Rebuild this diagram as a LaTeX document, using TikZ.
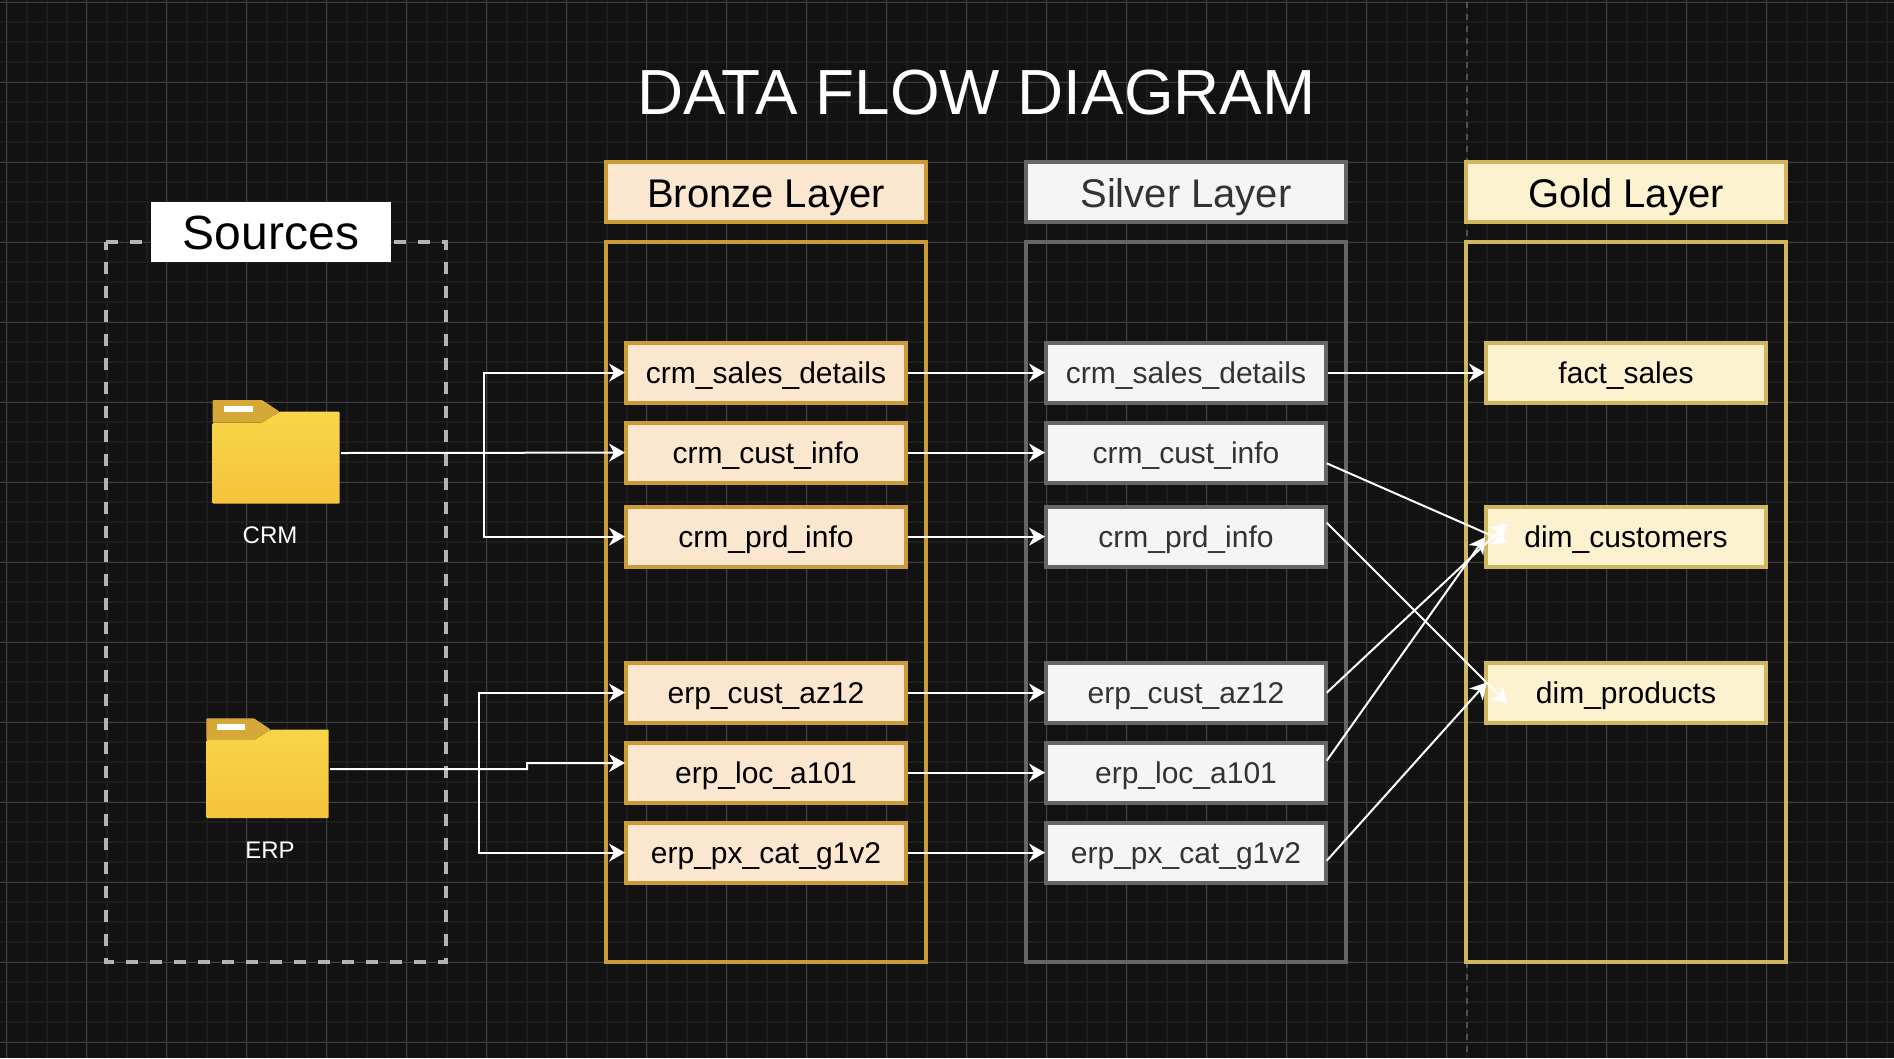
\documentclass[tikz,border=0pt]{standalone}
\usepackage{fontspec}
\setmainfont{Liberation Sans}
\usetikzlibrary{arrows.meta}
\definecolor{bgc}{HTML}{121212}
\definecolor{gridminor}{HTML}{1D1D1D}
\definecolor{gridmajor}{HTML}{3E3E3E}
\definecolor{griddash}{HTML}{505050}
\definecolor{bronzeline}{HTML}{CC9A36}
\definecolor{bronzefill}{HTML}{FBE6D0}
\definecolor{silverline}{HTML}{666666}
\definecolor{silverfill}{HTML}{F5F5F5}
\definecolor{silvertext}{HTML}{333333}
\definecolor{goldline}{HTML}{D1B660}
\definecolor{goldfill}{HTML}{FDF2CF}
\definecolor{dashgray}{HTML}{B3B3B3}
\definecolor{foldertop}{HTML}{F8D648}
\definecolor{folderbot}{HTML}{F5C33C}
\definecolor{foldertab}{HTML}{D6A838}
\tikzset{
  framebox/.style={draw,line width=4pt,inner sep=0pt,outer sep=2pt,minimum width=320pt,minimum height=720pt},
  headbox/.style={draw,line width=4pt,inner sep=0pt,minimum width=320pt,minimum height=60pt,
    font=\fontsize{40}{44}\selectfont,text height=30.5pt,text depth=0pt},
  itembox/.style={draw,line width=4pt,inner sep=0pt,minimum width=280pt,minimum height=60pt,
    font=\fontsize{30}{32}\selectfont,text height=21.5pt,text depth=0pt},
  bronze/.style={draw=bronzeline,fill=bronzefill,text=black},
  silver/.style={draw=silverline,fill=silverfill,text=silvertext},
  gold/.style={draw=goldline,fill=goldfill,text=black},
  folderbox/.style={inner sep=0pt,outer sep=0pt,minimum width=#1},
  flow/.style={draw=white,line width=2pt,shorten >=-1pt,-{Stealth[length=16pt,width=18pt,inset=5pt]}},
  srclabel/.style={text=white,inner sep=0pt,font=\fontsize{24}{26}\selectfont,text height=17pt,text depth=0pt},
}
\newcommand{\drawfolder}[3]{%
  \begin{scope}[shift={(#1,#2)},scale=#3]
    \shade[top color=foldertop,bottom color=folderbot,rounded corners=1pt]
      (0,22.7)--(49.4,22.7)--(67,11.7)--(127,11.7)--(127,103.7)--(0,103.7)--cycle;
    \fill[foldertab,rounded corners=1pt] (0,0)--(49.4,0)--(67,11.7)--(49.4,22.7)--(0,22.7)--cycle;
    \fill[white] (11.4,6.3) rectangle (40.4,11.7);
  \end{scope}}
\begin{document}
\begin{tikzpicture}[x=1pt,y=-1pt]
\useasboundingbox (0,0) rectangle (1894,1058);
\fill[bgc] (0,0) rectangle (1894,1058);
% grid
\foreach \k in {0,...,94} {\draw[gridminor,line width=2pt] ({6.7+20*\k},0) -- ({6.7+20*\k},1058);}
\foreach \k in {0,...,52} {\draw[gridminor,line width=2pt] (0,{2.3+20*\k}) -- (1894,{2.3+20*\k});}
\foreach \k in {0,...,23} {\draw[gridmajor,line width=1pt] ({6.7+80*\k},0) -- ({6.7+80*\k},1058);}
\foreach \k in {0,...,13} {\draw[gridmajor,line width=1pt] (0,{2.3+80*\k}) -- (1894,{2.3+80*\k});}
\draw[griddash,line width=2pt,dash pattern=on 6pt off 6pt] (1466.7,2) -- (1466.7,1058);
% title
\node[text=white,inner sep=0pt,font=\fontsize{63.8}{70}\selectfont,text height=47pt,text depth=0pt] (title) at (976.5,91) {DATA FLOW DIAGRAM};
% sources frame
\node[inner sep=0pt,outer sep=0pt,minimum width=340pt,minimum height=720pt] (srcframe) at (276,602) {};
\draw[dashgray,line width=4pt,dash pattern=on 12pt off 12pt]
  (srcframe.north west) -- (srcframe.north east) -- (srcframe.south east) -- (srcframe.south west) -- cycle;
\node[fill=white,text=black,inner sep=0pt,minimum width=240pt,minimum height=60pt,font=\fontsize{48}{52}\selectfont,text height=34pt,text depth=0pt] (srctitle) at (271,232) {Sources};
% layer frames
\node[framebox,draw=bronzeline] (bframe) at (766,602) {};
\node[framebox,draw=silverline] (sframe) at (1186,602) {};
\node[framebox,draw=goldline] (gframe) at (1626,602) {};
\node[headbox,bronze] (bhead) at (766,192) {Bronze Layer};
\node[headbox,silver] (shead) at (1186,192) {Silver Layer};
\node[headbox,gold] (ghead) at (1626,192) {Gold Layer};
% bronze items
\node[itembox,bronze] (b1) at (766,372.6) {crm\_sales\_details};
\node[itembox,bronze] (b2) at (766,452.6) {crm\_cust\_info};
\node[itembox,bronze] (b3) at (766,536.6) {crm\_prd\_info};
\node[itembox,bronze] (b4) at (766,692.6) {erp\_cust\_az12};
\node[itembox,bronze] (b5) at (766,772.6) {erp\_loc\_a101};
\node[itembox,bronze] (b6) at (766,852.6) {erp\_px\_cat\_g1v2};
% silver items
\node[itembox,silver] (s1) at (1186,372.6) {crm\_sales\_details};
\node[itembox,silver] (s2) at (1186,452.6) {crm\_cust\_info};
\node[itembox,silver] (s3) at (1186,536.6) {crm\_prd\_info};
\node[itembox,silver] (s4) at (1186,692.6) {erp\_cust\_az12};
\node[itembox,silver] (s5) at (1186,772.6) {erp\_loc\_a101};
\node[itembox,silver] (s6) at (1186,852.6) {erp\_px\_cat\_g1v2};
% gold items
\node[itembox,gold] (g1) at (1626,372.6) {fact\_sales};
\node[itembox,gold] (g2) at (1626,536.6) {dim\_customers};
\node[itembox,gold] (g3) at (1626,692.6) {dim\_products};
% folders
\drawfolder{212.6}{400}{1}
\drawfolder{206.3}{718.3}{0.9635}
\node[folderbox=128.4pt,minimum height=106pt] (crm) at (276.8,453) {};
\node[folderbox=123.7pt,minimum height=101.7pt] (erp) at (268.15,769.15) {};
\node[srclabel] (crmlabel) at (270,534.5) {CRM};
\node[srclabel] (erplabel) at (270,850) {ERP};
% named bends and free ends
\coordinate (crmbus) at (483.5,453);
\coordinate (erpbus) at (478.7,769);
\coordinate (erpstep) at (527,769);
\coordinate (b5in) at (624,763);
\coordinate (s2out) at (1326.7,463.3);
\coordinate (s3out) at (1326.7,522.7);
\coordinate (s4out) at (1326.7,692.7);
\coordinate (s5out) at (1326.7,760.7);
\coordinate (s6out) at (1326.7,860.7);
\coordinate (g2a) at (1506.7,542.3);
\coordinate (g2b) at (1506.7,524);
\coordinate (g2c) at (1484.5,538);
\coordinate (g3a) at (1506.7,702.7);
\coordinate (g3b) at (1486,683.3);
% sources to bronze
\draw[flow] (crm.east) -- (b2.west);
\draw[flow] (crmbus) |- (b1.west);
\draw[flow] (crmbus) |- (b3.west);
\draw[flow] (erp.east) -- (erpstep) |- (b5in);
\draw[flow] (erpbus) |- (b4.west);
\draw[flow] (erpbus) |- (b6.west);
% bronze to silver
\draw[flow] (b1.east) -- (s1.west);
\draw[flow] (b2.east) -- (s2.west);
\draw[flow] (b3.east) -- (s3.west);
\draw[flow] (b4.east) -- (s4.west);
\draw[flow] (b5.east) -- (s5.west);
\draw[flow] (b6.east) -- (s6.west);
% silver to gold
\draw[flow] (s1.east) -- (g1.west);
\draw[flow] (s2out) -- (g2a);
\draw[flow] (s3out) -- (g3a);
\draw[flow] (s4out) -- (g2b);
\draw[flow] (s5out) -- (g2c);
\draw[flow] (s6out) -- (g3b);
\end{tikzpicture}
\end{document}
